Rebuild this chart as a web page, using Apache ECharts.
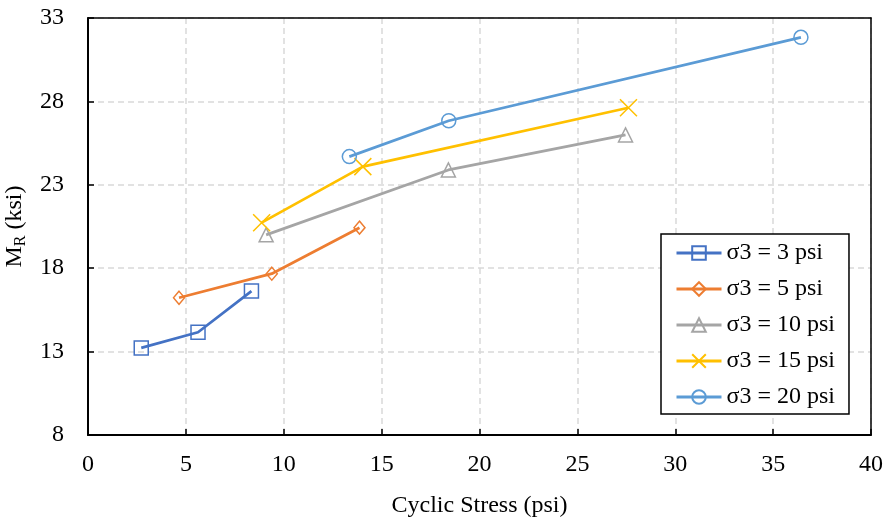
<!DOCTYPE html>
<html>
<head>
<meta charset="utf-8">
<script src="https://cdn.jsdelivr.net/npm/echarts@6/dist/echarts.min.js"></script>
<style>
  html, body { margin: 0; padding: 0; background: #fff; }
  #chart { width: 888px; height: 519px; }
</style>
</head>
<body>
<div id="chart"></div>
<script>
// 各围压下的回弹模量数据 (x: cyclic stress psi, y: MR ksi)
const names = ['σ3 = 3 psi', 'σ3 = 5 psi', 'σ3 = 10 psi', 'σ3 = 15 psi', 'σ3 = 20 psi']
const s3 = [[2.72, 13.22], [5.62, 14.16], [8.35, 16.63]]
const s5 = [[4.65, 16.23], [9.39, 17.67], [13.87, 20.43]]
const s10 = [[9.10, 20.0], [18.41, 23.89], [27.46, 25.99]]
const s15 = [[8.87, 20.73], [14.04, 24.09], [27.61, 27.62]]
const s20 = [[13.35, 24.69], [18.43, 26.84], [36.42, 31.84]]
const yTicks = [8, 13, 18, 23, 28, 33]

const colors = ['#4472C4', '#ED7D31', '#A5A5A5', '#FFC000', '#5B9BD5']
const symbols = ['rect', 'diamond', 'triangle', 'path://M0,0L10,10M10,0L0,10', 'circle']
const sizes = [14, [11, 13], 14, 17, 14]
const dataList = [s3, s5, s10, s15, s20]

const font = 'Liberation Serif'
const fs = 24

const myChart = echarts.init(document.getElementById('chart'))
myChart.setOption({
  animation: false,
  grid: { left: 88, top: 18, right: 17, bottom: 84, outerBoundsMode: 'none', containLabel: false },
  legend: {
    orient: 'vertical',
    left: 661, top: 234,
    padding: [7, 14, 5, 14],
    itemWidth: 45, itemHeight: 17, itemGap: 12,
    borderColor: '#000', borderWidth: 1.5,
    backgroundColor: '#fff',
    lineStyle: { width: 3 },
    textStyle: { fontFamily: font, fontSize: fs, color: '#000' },
    data: names
  },
  xAxis: [{
    type: 'value',
    min: 0, max: 40, interval: 5,
    name: 'Cyclic Stress (psi)',
    nameLocation: 'middle', nameGap: 59,
    nameTextStyle: { fontFamily: font, fontSize: fs, color: '#000' },
    axisLine: { show: true, lineStyle: { color: '#000', width: 2 } },
    axisTick: { show: true, inside: true, length: 6, lineStyle: { color: '#000', width: 1.5 } },
    axisLabel: { fontFamily: font, fontSize: fs, color: '#000', margin: 18 },
    splitLine: { show: true, lineStyle: { color: '#D9D9D9', width: 1.5, type: [6, 4] } }
  }, {
    // 上边框
    type: 'value', position: 'top',
    min: 0, max: 40, interval: 5,
    axisLine: { show: true, onZero: false, lineStyle: { color: '#000', width: 1.5 } },
    axisTick: { show: false }, axisLabel: { show: false }, splitLine: { show: false }
  }],
  yAxis: [{
    type: 'value',
    min: 8, max: 33,
    name: '{m|M}{r|R}{m| (ksi)}',
    nameLocation: 'middle', nameGap: 46, nameRotate: 90,
    nameTextStyle: {
      fontFamily: font, fontSize: fs, color: '#000',
      rich: {
        m: { fontFamily: font, fontSize: fs, color: '#000', lineHeight: 28 },
        r: { fontFamily: font, fontSize: 16, color: '#000', lineHeight: 28, verticalAlign: 'bottom', padding: [7, 0, 0, 0] }
      }
    },
    axisLine: { show: true, lineStyle: { color: '#000', width: 2 } },
    axisTick: { show: true, inside: true, length: 6, customValues: yTicks, lineStyle: { color: '#000', width: 1.5 } },
    axisLabel: { fontFamily: font, fontSize: fs, color: '#000', margin: 24, customValues: yTicks },
    splitLine: { show: true, lineStyle: { color: '#D9D9D9', width: 1.5, type: [6, 4] } }
  }, {
    // 右边框
    type: 'value', position: 'right',
    min: 8, max: 33,
    axisLine: { show: true, onZero: false, lineStyle: { color: '#000', width: 1.5 } },
    axisTick: { show: false }, axisLabel: { show: false }, splitLine: { show: false }
  }],
  series: dataList.map((d, i) => ({
    name: names[i],
    type: 'line',
    data: d,
    symbol: symbols[i],
    symbolSize: sizes[i],
    showSymbol: true,
    lineStyle: { color: colors[i], width: 2.75 },
    itemStyle: { color: 'rgba(0,0,0,0)', borderColor: colors[i], borderWidth: 1.5 },
    z: 2 + i
  }))
})
</script>
</body>
</html>
